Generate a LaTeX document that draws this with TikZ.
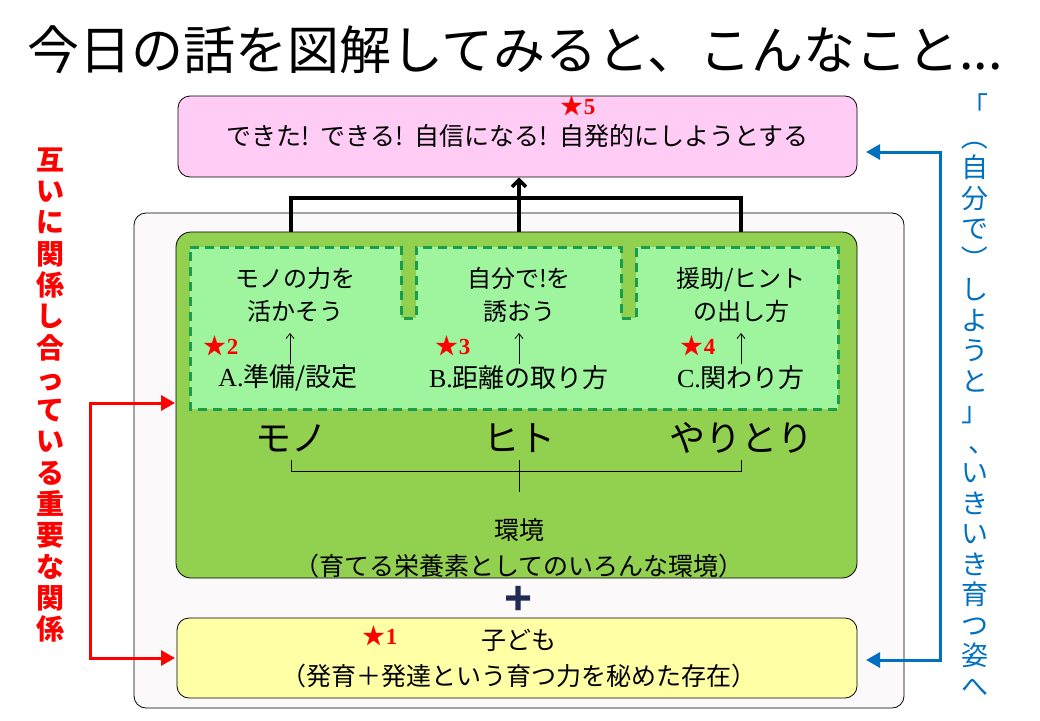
\documentclass[tikz,border=0pt]{standalone}
\usepackage{graphicx}
\usepackage{fontspec}
\setmainfont{Noto Sans CJK JP}
\newfontfamily\jp{Noto Sans CJK JP}
\newfontfamily\tms{Liberation Serif}
\newfontfamily\lsans{Liberation Sans}
\usetikzlibrary{arrows.meta}
\definecolor{pinkc}{HTML}{FFCCF6}
\definecolor{envg}{HTML}{92D050}
\definecolor{lightg}{HTML}{9EF59E}
\definecolor{dashg}{HTML}{1A9E4E}
\definecolor{yelc}{HTML}{FFFFA6}
\definecolor{outerc}{HTML}{FBF9F9}
\definecolor{redc}{HTML}{FF0000}
\definecolor{bluec}{HTML}{0070C0}
\definecolor{navyc}{HTML}{1F2A55}
\tikzset{
 box/.style={draw=black, line width=0.8pt, inner sep=0pt},
 jtxt/.style={font=\jp\fontsize{24}{33}\selectfont, align=center, inner sep=0pt},
 lowtxt/.style={font=\jp\fontsize{26}{33}\selectfont, align=center, inner sep=0pt},
 midtxt/.style={font=\jp\fontsize{25}{36}\selectfont, align=center, inner sep=0pt},
 bigtxt/.style={font=\jp\fontsize{36}{40}\selectfont, inner sep=0pt},
 startag/.style={text=redc, inner sep=0pt, font=\fontsize{23}{23}\selectfont},
 conn/.style={line width=3.5pt, black},
 fine/.style={line width=0.8pt, black},
 redconn/.style={line width=3pt, redc, {Triangle[length=14pt,width=15pt]}-{Triangle[length=14pt,width=15pt]}},
 blueconn/.style={line width=3pt, bluec, {Triangle[length=14pt,width=15pt]}-{Triangle[length=14pt,width=15pt]}},
}
\newcommand{\stg}[1]{{\jp ★}{\tms\bfseries #1}}
\newcommand{\vrot}[1]{\rotatebox[origin=c]{-90}{#1}}
\begin{document}
\begin{tikzpicture}[x=1pt,y=-1pt]
\useasboundingbox (0,0) rectangle (1040,720);
\fill[white] (0,0) rectangle (1040,720);
% title
\node[inner sep=0pt, font=\jp\fontsize{52}{56}\selectfont] (title) at (515,50) {今日の話を図解してみると、こんなこと...};
% outer frame
\node[box, fill=outerc, rounded corners=12pt, minimum width=770pt, minimum height=495pt] (frame) at (519,460.5) {};
% goal box
\node[box, fill=pinkc, rounded corners=12pt, minimum width=679pt, minimum height=81pt, font=\jp\fontsize{25}{28}\selectfont] (goal) at (517.5,136.5) {できた!\ \ できる!\ \ 自信になる!\ \ 自発的にしようとする};
\node[startag] (s5) at (578,106) {\stg{5}};
% environment box
\node[box, fill=envg, rounded corners=15pt, minimum width=681pt, minimum height=346pt] (env) at (516.5,405) {};
% dashed region
\filldraw[fill=lightg, draw=dashg, line width=3pt, dash pattern=on 9pt off 6pt]
 (190,247) -- (401,247) -- (401,318) -- (416,318) -- (416,247) -- (621,247) -- (621,318) -- (636,318) -- (636,247) -- (838,247) -- (838,409) -- (190,409) -- cycle;
% upper texts
\node[jtxt] (u1) at (295,295) {モノの力を\\活かそう};
\node[jtxt] (u2) at (519,295) {自分で!を\\誘おう};
\node[jtxt] (u3) at (741,295) {援助/ヒント\\の出し方};
% lower texts
\node[lowtxt] (l1) at (288,378) {{\tms A.}準備/設定};
\node[lowtxt] (l2) at (519,378) {{\tms B.}距離の取り方};
\node[lowtxt] (l3) at (741,378) {{\tms C.}関わり方};
\node[startag] (s2) at (221,346) {\stg{2}};
\node[startag] (s3) at (453,346) {\stg{3}};
\node[startag] (s4) at (698,346) {\stg{4}};
\foreach \i/\x in {1/290,2/519,3/741}{
  \coordinate (ua\i) at (\x,333);
  \coordinate (la\i) at (\x,364);
  \draw[fine, -{Straight Barb[length=5pt,width=8pt]}] (la\i) -- (ua\i);
}
% mono hito yaritori
\node[bigtxt] (k1) at (291,438) {モノ};
\node[bigtxt] (k2) at (519,438) {ヒト};
\node[bigtxt] (k3) at (741,438) {やりとり};
\coordinate (b1) at (291,460); \coordinate (b1b) at (291,471);
\coordinate (b3) at (741,460); \coordinate (b3b) at (741,471);
\coordinate (b2) at (519,460); \coordinate (b2b) at (519,492);
\draw[fine] (b1) -- (b1b) -- (b3b) -- (b3);
\draw[fine] (b2) -- (b2b);
\node[midtxt] (envt) at (519,548) {環境\\（育てる栄養素としてのいろんな環境）};
% plus
\node[inner sep=0pt, text=navyc, font=\lsans\bfseries\fontsize{48}{48}\selectfont] (plus) at (519,600) {+};
% child box
\node[box, fill=yelc, rounded corners=12pt, minimum width=680pt, minimum height=80pt] (child) at (517,658) {};
\node[midtxt] (childt) at (519,659) {子ども\\（発育＋発達という育つ力を秘めた存在）};
\node[startag] (s1) at (380,636) {\stg{1}};
% top connectors
\coordinate (c1) at (291,232); \coordinate (j1) at (291,198);
\coordinate (c2) at (519,232); \coordinate (j2) at (519,198);
\coordinate (c3) at (741,232); \coordinate (j3) at (741,198);
\draw[conn] (c1) -- (j1) -- (j3) -- (c3);
\draw[conn, -{Straight Barb[length=7pt,width=14pt]}] (c2) -- (j2 |- goal.south);
% red side
\node[inner sep=0pt, align=center, text=redc, font=\jp\bfseries\fontsize{28}{31.3}\selectfont] (redt) at (50,395)
 {互\\い\\に\\関\\係\\し\\合\\っ\\て\\い\\る\\重\\要\\な\\関\\係};
\coordinate (rA) at (175,403);
\coordinate (rB) at (175,658);
\draw[redconn] (rA) -- ++(-85,0) |- (rB);
% blue side
\node[inner sep=0pt, align=center, text=bluec, font=\jp\fontsize{27}{30.5}\selectfont] (bluet) at (975,395)
 {「\\\vrot{（}\\自\\分\\で\\\vrot{）}\\し\\よ\\う\\と\\」\\\hspace*{14pt}、\\い\\き\\い\\き\\育\\つ\\姿\\へ};
\coordinate (bA) at (866,152);
\coordinate (bB) at (866,660);
\draw[blueconn] (bA) -- ++(74,0) |- (bB);
\end{tikzpicture}
\end{document}
